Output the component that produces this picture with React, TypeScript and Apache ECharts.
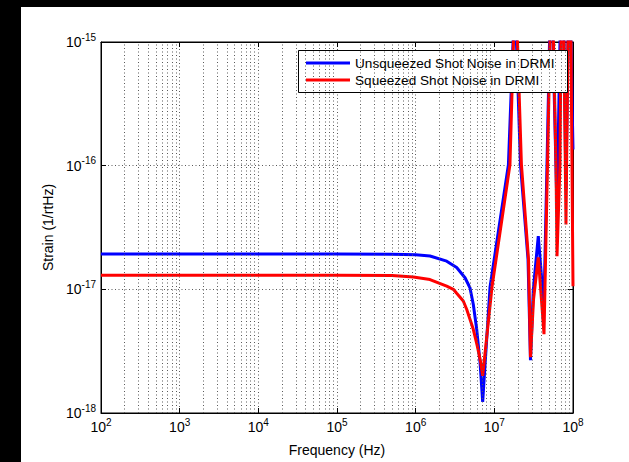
import React, { useEffect, useRef } from "react";
import * as echarts from "echarts";

// Frequency (Hz) and strain (1/rtHz)
const blueFreq = [
  1e2, 1e3, 1e4, 1e5, 5e5, 1e6, 1.52e6, 2.48e6, 3.32e6, 4.24e6,
  4.9e6, 5.4e6, 5.97e6, 6.58e6, 7.11e6, 8.81e6, 1.51e7, 1.73e7, 1.8e7, 1.91e7,
  2.15e7, 2.68e7, 2.88e7, 3.13e7, 3.62e7, 4.1e7, 4.22e7, 4.67e7, 5.03e7, 5.25e7,
  5.56e7, 6.26e7, 6.83e7, 7.24e7, 7.68e7, 8.14e7, 8.63e7, 9.02e7, 9.42e7, 1e8,
];
const blueStrain = [
  1.93e-17, 1.93e-17, 1.93e-17, 1.93e-17, 1.92e-17, 1.9e-17, 1.86e-17, 1.69e-17, 1.5e-17, 1.24e-17,
  1.03e-17, 7.57e-18, 4.75e-18, 2.58e-18, 1.23e-18, 1.04e-17, 1.02e-16, 1e-15, 9.6e-15, 1e-15,
  1.02e-16, 1.75e-17, 2.67e-18, 1.0e-17, 2.69e-17, 1.0e-17, 5.22e-18, 1.02e-16, 1e-15, 9.6e-15,
  1e-15, 4.42e-17, 1e-15, 9.6e-15, 1e-15, 6.4e-17, 1e-15, 6.6e-15, 1e-15, 1.35e-16,
];
const redFreq = [
  1e2, 1e3, 1e4, 1e5, 5e5, 9.33e5, 1.52e6, 2.48e6, 3.01e6, 3.32e6,
  4.03e6, 4.45e6, 5.4e6, 6.07e6, 6.7e6, 7.11e6, 9.33e6, 1.58e7, 1.75e7, 1.85e7,
  1.97e7, 2.21e7, 2.72e7, 2.88e7, 3.15e7, 3.62e7, 3.97e7, 4.28e7, 4.74e7, 5.1e7,
  5.33e7, 5.65e7, 6.08e7, 6.26e7, 6.83e7, 7.03e7, 7.35e7, 7.68e7, 8.14e7, 8.63e7,
  9.02e7, 9.42e7, 1e8,
];
const redStrain = [
  1.3e-17, 1.3e-17, 1.3e-17, 1.3e-17, 1.295e-17, 1.26e-17, 1.2e-17, 1.06e-17, 1.0e-17, 9.29e-18,
  8.05e-18, 6.9e-18, 4.75e-18, 3.49e-18, 2.58e-18, 2.0e-18, 1.04e-17, 1.02e-16, 1e-15, 9.6e-15,
  1e-15, 1.02e-16, 1.75e-17, 2.83e-18, 8.3e-18, 1.81e-17, 8.3e-18, 4.34e-18, 1.02e-16, 1e-15,
  9.6e-15, 1e-15, 1.02e-16, 1.85e-17, 1.02e-16, 1e-15, 9.6e-15, 1e-15, 3.34e-17, 1e-15,
  6.6e-15, 1e-15, 1.06e-17,
];

const seriesNames = ["Unsqueezed Shot Noise in DRMI", "Squeezed Shot Noise in DRMI"];
const seriesColors = ["#0000ff", "#ff0000"];
const xRange = [1e2, 1e8];
const yRange = [1e-18, 1e-15];
const xDecades = [2, 3, 4, 5, 6, 7];
const yDecades = [-18, -17, -16];
const minorMultipliers = [2, 3, 4, 5, 6, 7, 8, 9];

const FONT = "'Liberation Sans', Arial, Helvetica, sans-serif";

function minorValues(decades: number[]) {
  const out: number[] = [];
  decades.forEach((d) => minorMultipliers.forEach((m) => out.push(m * Math.pow(10, d))));
  return out;
}

const expLabel = (v: number) => {
  const e = Math.round(Math.log10(v));
  return `{b|10}{s|${e}}`;
};

const richLabel = {
  b: { fontSize: 14, fontFamily: FONT, color: "#000", padding: [5, 0, 0, 0], lineHeight: 15 },
  s: { fontSize: 10, fontFamily: FONT, color: "#000", verticalAlign: "top", lineHeight: 11 },
};

const gridLine = { color: "#5a5a5a", width: 1, type: [1, 2.5] as number[] };

export default function App() {
  const ref = useRef<HTMLDivElement>(null);

  useEffect(() => {
    if (!ref.current) return;
    const chart = echarts.init(ref.current, undefined, { renderer: "svg" });
    const blueData = blueFreq.map((f, i) => [f, blueStrain[i]]);
    const redData = redFreq.map((f, i) => [f, redStrain[i]]);
    const minorX = minorValues(xDecades);
    const minorY = minorValues(yDecades);

    const baseX = {
      type: "log" as const,
      logBase: 10,
      min: xRange[0],
      max: xRange[1],
      interval: 1,
    };
    const baseY = {
      type: "log" as const,
      logBase: 10,
      min: yRange[0],
      max: yRange[1],
      interval: 1,
    };

    chart.setOption({
      animation: false,
      backgroundColor: "transparent",
      textStyle: { fontFamily: FONT },
      grid: {
        left: 101,
        right: 56,
        top: 42,
        bottom: 48,
        show: true,
        backgroundColor: "#fff",
        borderColor: "#000",
        borderWidth: 1,
      },
      graphic: [
        {
          type: "rect",
          z: 5,
          silent: true,
          shape: { x: 298.5, y: 50.5, width: 269, height: 42 },
          style: { fill: "#fff", stroke: "#000", lineWidth: 1 },
        },
      ],
      legend: {
        data: seriesNames.map((n) => ({ name: n, icon: "rect" })),
        orient: "vertical",
        left: 298,
        top: 50,
        z: 6,
        itemWidth: 44,
        itemHeight: 3,
        itemGap: 3,
        padding: [6, 6, 6, 8],
        backgroundColor: "transparent",
        borderWidth: 0,
        textStyle: { fontSize: 13.6, color: "#000", fontFamily: FONT, lineHeight: 14 },
      },
      xAxis: [
        {
          ...baseX,
          position: "bottom",
          name: "Frequency (Hz)",
          nameLocation: "middle",
          nameGap: 30,
          nameTextStyle: { fontSize: 14, color: "#000", fontFamily: FONT },
          axisLine: { show: true, lineStyle: { color: "#000", width: 1 } },
          axisTick: { show: true, inside: true, length: 5, lineStyle: { color: "#000" } },
          axisLabel: { formatter: expLabel, rich: richLabel, margin: 4 },
          splitLine: { show: true, lineStyle: gridLine },
        },
        {
          ...baseX,
          position: "top",
          axisLine: { show: true, lineStyle: { color: "#000", width: 1 } },
          axisTick: { show: true, inside: true, length: 5, lineStyle: { color: "#000" } },
          axisLabel: { show: false },
          splitLine: { show: false },
        },
      ],
      yAxis: [
        {
          ...baseY,
          position: "left",
          name: "Strain (1/rtHz)",
          nameLocation: "middle",
          nameGap: 44,
          nameTextStyle: { fontSize: 14, color: "#000", fontFamily: FONT },
          axisLine: { show: true, lineStyle: { color: "#000", width: 1 } },
          axisTick: { show: true, inside: true, length: 5, lineStyle: { color: "#000" } },
          axisLabel: { formatter: expLabel, rich: richLabel, margin: 5, padding: [0, 0, 5, 0] },
          splitLine: { show: true, lineStyle: gridLine },
        },
        {
          ...baseY,
          position: "right",
          axisLine: { show: true, lineStyle: { color: "#000", width: 1 } },
          axisTick: { show: true, inside: true, length: 5, lineStyle: { color: "#000" } },
          axisLabel: { show: false },
          splitLine: { show: false },
        },
      ],
      series: [
        {
          name: "_minorGrid",
          type: "line",
          data: [],
          z: 1,
          silent: true,
          markLine: {
            silent: true,
            symbol: ["none", "none"],
            label: { show: false },
            lineStyle: gridLine,
            emphasis: { disabled: true },
            data: [
              ...minorX.map((v) => ({ xAxis: v })),
              ...minorY.map((v) => ({ yAxis: v })),
            ],
          },
        },
        {
          name: seriesNames[0],
          type: "line",
          data: blueData,
          showSymbol: false,
          symbol: "none",
          color: seriesColors[0],
          lineStyle: { color: seriesColors[0], width: 3 },
          z: 3,
        },
        {
          name: seriesNames[1],
          type: "line",
          data: redData,
          showSymbol: false,
          symbol: "none",
          color: seriesColors[1],
          lineStyle: { color: seriesColors[1], width: 3 },
          z: 4,
        },
      ],
    });
    return () => chart.dispose();
  }, []);

  return (
    <div style={{ position: "fixed", left: 0, top: 0, width: 629, height: 462, background: "#000", overflow: "hidden" }}>
      <div style={{ position: "absolute", left: 21, top: 7, width: 608, height: 455, background: "#fff" }} />
      <div ref={ref} style={{ position: "absolute", left: 0, top: 0, width: 629, height: 462 }} />
    </div>
  );
}
